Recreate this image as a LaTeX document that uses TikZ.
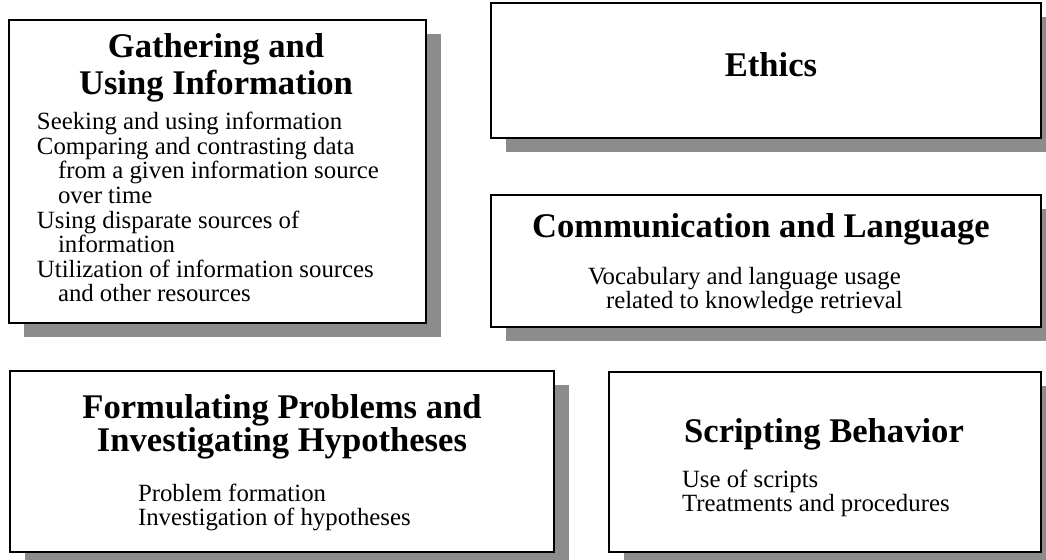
\documentclass[tikz,border=0pt]{standalone}
\usepackage{fontspec}
\setmainfont{Liberation Serif}
\usetikzlibrary{shadows}
\definecolor{shadowgray}{RGB}{140,140,140}
\begin{document}
\begin{tikzpicture}[x=0.5pt,y=-0.5pt,inner sep=0pt,outer sep=0pt,very thick,
topicbox/.style={draw,rectangle,fill=white,very thick,
  drop shadow={shadow xshift=7.5pt,shadow yshift=-7pt,fill=shadowgray,opacity=1}},
headtext/.style={font=\fontsize{17.3}{18.5}\selectfont\bfseries,align=center,anchor=base},
bodytext/.style={font=\fontsize{12.4}{12.3}\selectfont,align=left,anchor=base west}]
\useasboundingbox (0,0) rectangle (1046,560);
% the five boxes
\draw (217.5,171.5) node[topicbox,minimum width=208.5pt,minimum height=151.5pt] (gather) {};
\draw (766,70.5) node[topicbox,minimum width=275pt,minimum height=67.5pt] (ethics) {};
\draw (766,261) node[topicbox,minimum width=275pt,minimum height=66pt] (comm) {};
\draw (282,461.5) node[topicbox,minimum width=272pt,minimum height=90.5pt] (formul) {};
\draw (825,462) node[topicbox,minimum width=216pt,minimum height=90pt] (script) {};
% headings (base is the last line)
\draw (216,95) node[headtext] (gatherhead) {Gathering and\\Using Information};
\draw (771,77) node[headtext] (ethicshead) {Ethics};
\draw (761,238) node[headtext] (commhead) {Communication and Language};
\draw (282,452) node[headtext,font=\fontsize{17.3}{15.5}\selectfont\bfseries] (formulhead) {Formulating Problems and\\Investigating Hypotheses};
\draw (824,443) node[headtext] (scripthead) {Scripting Behavior};
% topic lists
\draw (37,302) node[bodytext] (gatherbody) {Seeking and using information\\
  Comparing and contrasting data\\
  \hspace*{10.5pt}from a given information source\\
  \hspace*{10.5pt}over time\\
  Using disparate sources of\\
  \hspace*{10.5pt}information\\
  Utilization of information sources\\
  \hspace*{10.5pt}and other resources};
\draw (588,309) node[bodytext] (commbody) {Vocabulary and language usage\\
  \hspace*{9pt}related to knowledge retrieval};
\draw (138,526) node[bodytext] (formulbody) {Problem formation\\Investigation of hypotheses};
\draw (682,512) node[bodytext] (scriptbody) {Use of scripts\\Treatments and procedures};
\end{tikzpicture}
\end{document}
